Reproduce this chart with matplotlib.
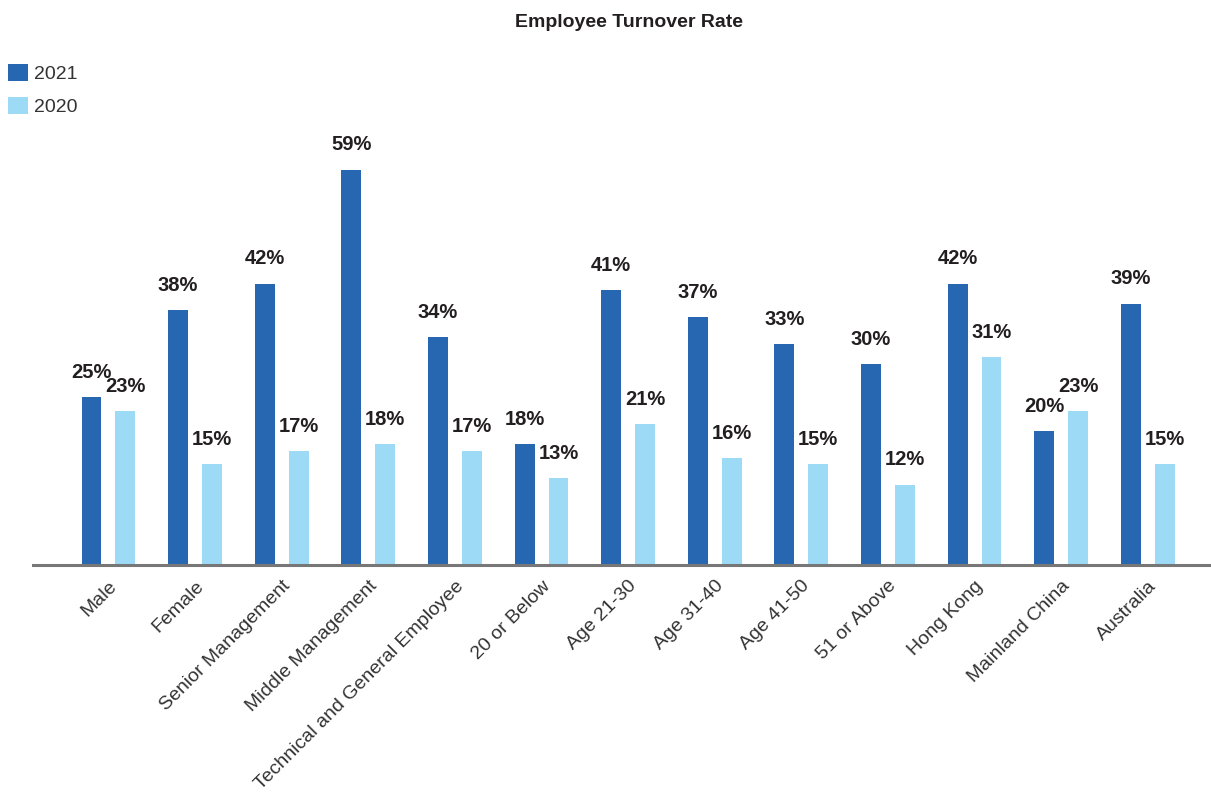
import matplotlib.pyplot as plt
import numpy as np

plt.rcParams['font.family'] = ['Liberation Sans', 'DejaVu Sans']

categories = ["Male", "Female", "Senior Management", "Middle Management",
              "Technical and General Employee", "20 or Below", "Age 21-30",
              "Age 31-40", "Age 41-50", "51 or Above", "Hong Kong",
              "Mainland China", "Australia"]
rate_2021 = [25, 38, 42, 59, 34, 18, 41, 37, 33, 30, 42, 20, 39]
rate_2020 = [23, 15, 17, 18, 17, 13, 21, 16, 15, 12, 31, 23, 15]

c2021 = "#2767b1"
c2020 = "#9ddaf5"
txt = "#231f20"

fig = plt.figure(figsize=(12.11, 7.92), dpi=100)
ax = fig.add_axes([0.027, 0.2866, 0.973, 0.55])

x = np.arange(len(categories))
w = 0.23
off = 0.196
b1 = ax.bar(x - off, rate_2021, w, color=c2021, label="2021")
b2 = ax.bar(x + off, rate_2020, w, color=c2020, label="2020")

for bars, vals in [(b1, rate_2021), (b2, rate_2020)]:
    for b, v in zip(bars, vals):
        ax.annotate(f"{v}%", (b.get_x() + b.get_width() / 2, v),
                    xytext=(0, 11), textcoords="offset points",
                    ha="center", va="bottom", fontsize=14.5,
                    fontweight="bold", color=txt)

ax.set_xlim(-0.875, 12.73)
ax.set_ylim(0, 65)
ax.set_yticks([])
ax.set_xticks(x)
ax.set_xticklabels(categories, rotation=45, ha="right", va="top",
                   rotation_mode="anchor", fontsize=14, color="#333333")
ax.tick_params(axis="x", length=0, pad=9)
for s in ["top", "right", "left"]:
    ax.spines[s].set_visible(False)
ax.spines["bottom"].set_color("#777777")
ax.spines["bottom"].set_linewidth(2.2)

fig.text(0.519, 0.972, "Employee Turnover Rate", ha="center", va="center",
         fontsize=14, fontweight="bold", color=txt)

fig.legend(handles=[b1, b2], loc="upper left", bbox_to_anchor=(-0.0028, 0.934),
           frameon=False, fontsize=14, handlelength=1.0, handleheight=1.0,
           handletextpad=0.3, labelspacing=0.68, labelcolor="#333333",
           borderaxespad=0.2)

fig.savefig("out.png", dpi=100)
